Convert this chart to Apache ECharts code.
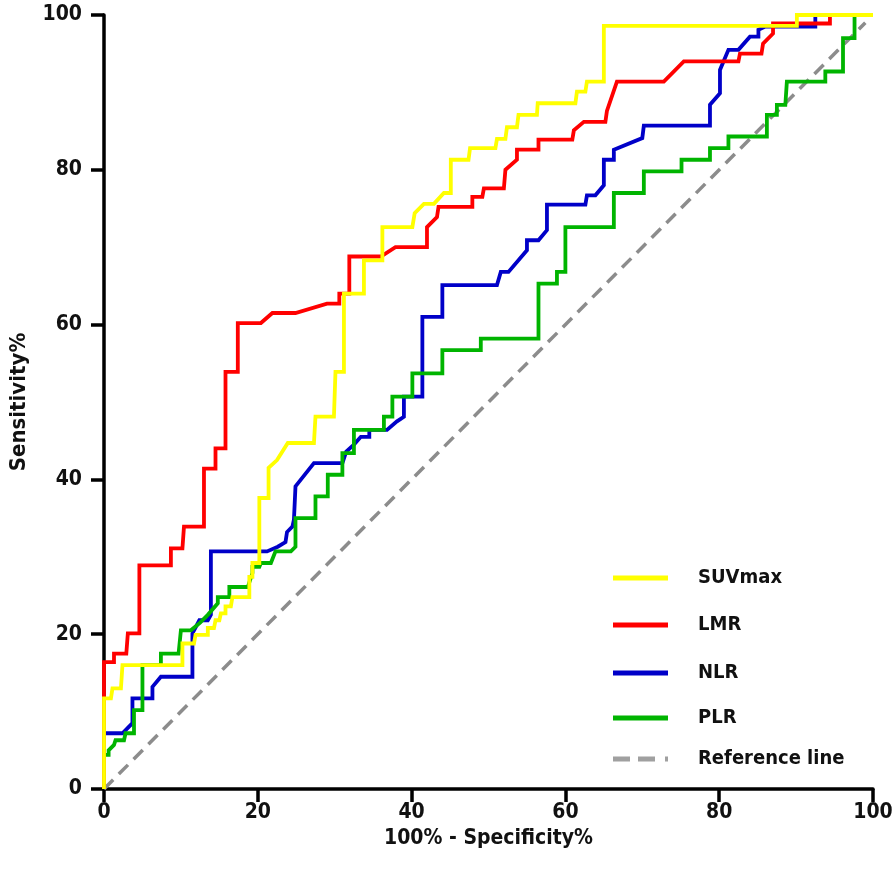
<!DOCTYPE html>
<html>
<head>
<meta charset="utf-8">
<script src="https://cdn.jsdelivr.net/npm/echarts@6/dist/echarts.min.js"></script>
<style>
html,body{margin:0;padding:0;background:#fff;}
#chart{width:896px;height:872px;}
</style>
</head>
<body>
<div id="chart"></div>
<script>
// ---- data ----
const seriesNames = ['SUVmax', 'LMR', 'NLR', 'PLR', 'Reference line'];
const axisTicks = [0, 20, 40, 60, 80, 100];

const suvmax = [[0,0],[0,11.7],[0.9,11.7],[1.1,13],[2.2,13],[2.4,16],[10.2,16],[10.2,18.8],[11.7,18.8],[11.9,19.9],[13.5,19.9],[13.5,20.8],[14.3,20.8],[14.5,21.8],[15,21.8],[15.2,22.7],[15.8,22.7],[15.8,23.6],[16.5,23.6],[16.7,24.8],[18.9,24.8],[18.9,27.4],[19.3,27.4],[19.3,29.2],[20.2,29.2],[20.2,37.6],[21.4,37.6],[21.4,41.5],[22.5,42.5],[23.9,44.7],[27.3,44.7],[27.5,48.1],[29.9,48.1],[30.1,53.9],[31.2,53.9],[31.2,64],[33.8,64],[33.8,68.3],[36.2,68.3],[36.2,72.6],[40.1,72.6],[40.4,74.4],[41.6,75.6],[42.9,75.6],[44.2,77],[45.1,77],[45.1,81.3],[47.4,81.3],[47.6,82.8],[50.9,82.8],[51.1,84],[52.2,84],[52.4,85.5],[53.7,85.5],[53.9,87.1],[56.3,87.1],[56.4,88.6],[61.3,88.6],[61.5,90.1],[62.6,90.1],[62.8,91.4],[65,91.4],[65,98.6],[90.1,98.6],[90.1,100],[100,100]];

const lmr = [[0,0],[0,16.4],[1.3,16.4],[1.3,17.5],[2.9,17.5],[3.1,20.1],[4.6,20.1],[4.6,28.9],[8.7,28.9],[8.7,31.1],[10.2,31.1],[10.4,33.9],[13,33.9],[13,41.4],[14.5,41.4],[14.5,44],[15.8,44],[15.8,53.9],[17.4,53.9],[17.4,60.2],[20.4,60.2],[21.9,61.5],[24.9,61.5],[29,62.7],[30.6,62.7],[30.6,64],[31.9,64],[31.9,68.8],[36,68.8],[37.9,70],[42,70],[42,72.6],[43.3,73.9],[43.5,75.2],[47.9,75.2],[47.9,76.5],[49.2,76.5],[49.4,77.6],[52,77.6],[52.2,80],[53.7,81.3],[53.7,82.6],[56.5,82.6],[56.5,83.9],[60.9,83.9],[61.1,85.1],[62.4,86.2],[65.2,86.2],[65.4,87.6],[66.7,91.4],[72.8,91.4],[75.4,94],[82.5,94],[82.7,95],[85.5,95],[85.7,96.3],[87,97.6],[87,98.9],[94.4,98.9],[94.4,100],[100,100]];

const nlr = [[0,0],[0,7.2],[2.4,7.2],[3.7,8.5],[3.7,11.7],[6.3,11.7],[6.3,13.2],[7.4,14.5],[11.5,14.5],[11.5,20.1],[12.4,21.8],[13.5,21.8],[13.9,22.5],[13.9,30.7],[21.2,30.7],[22.6,31.3],[23.6,31.9],[23.8,33.2],[24.5,33.9],[24.7,34.8],[24.9,39.1],[27.3,42.1],[31,42.1],[31.5,43.6],[32.5,44.5],[33.4,45.5],[34.5,45.5],[34.5,46.4],[36.8,46.4],[38.1,47.5],[39,48.1],[39,50.7],[41.4,50.7],[41.4,61],[44,61],[44,65.1],[51.1,65.1],[51.6,66.8],[52.6,66.8],[55,69.6],[55,70.9],[56.5,70.9],[57.6,72.2],[57.6,75.5],[62.6,75.5],[62.8,76.7],[63.9,76.7],[65,78],[65,81.3],[66.3,81.3],[66.3,82.6],[70,84.1],[70.2,85.7],[78.8,85.7],[78.8,88.4],[80.1,89.9],[80.1,92.9],[81.2,95.5],[82.5,95.5],[84,97.2],[85.1,97.2],[85.1,98.1],[86,98.5],[92.5,98.5],[92.5,100],[100,100]];

const plr = [[0,0],[0,4.4],[0.6,4.4],[0.6,5],[1.3,5.7],[1.5,6.3],[2.6,6.3],[2.8,7.2],[3.9,7.2],[3.9,10.2],[5,10.2],[5,16],[7.4,16],[7.4,17.5],[9.7,17.5],[10,20.5],[11.3,20.5],[12.5,21.5],[13.5,22.5],[14.8,24],[14.8,24.8],[16.3,24.8],[16.3,26.1],[18.7,26.1],[19.3,27.9],[19.3,28.7],[20.2,28.7],[20.4,29.2],[21.7,29.2],[22.3,30.7],[24.3,30.7],[24.9,31.3],[24.9,35],[27.5,35],[27.5,37.8],[29.1,37.8],[29.1,40.6],[31,40.6],[31,43.4],[32.5,43.4],[32.5,46.4],[36.4,46.4],[36.4,48.1],[37.5,48.1],[37.5,50.7],[40.1,50.7],[40.1,53.7],[44,53.7],[44,56.7],[49,56.7],[49,58.2],[56.5,58.2],[56.5,65.3],[58.9,65.3],[58.9,66.8],[60,66.8],[60,72.6],[66.3,72.6],[66.3,77],[70.2,77],[70.2,79.8],[75.1,79.8],[75.1,81.3],[78.8,81.3],[78.8,82.8],[81.2,82.8],[81.2,84.3],[86.2,84.3],[86.2,87.1],[87.5,87.1],[87.5,88.4],[88.6,88.4],[88.8,91.4],[93.8,91.4],[93.8,92.7],[96.1,92.7],[96.1,97],[97.6,97],[97.6,100],[100,100]];

const refLine = [[0,0],[99,99]];

const seriesData = [suvmax, lmr, nlr, plr, refLine];
const colors = ['#FFFF00', '#FF0000', '#0000C8', '#00B400', '#8C8C8C'];
const legendColors = ['#FFFF00', '#FF0000', '#0000C8', '#00B400', '#A0A0A0'];
const zs = [6, 5, 3, 4, 2];
const legendTops = [568, 615, 663, 708, 749];

const FONT = "'Liberation Sans Narrow', 'DejaVu Sans Condensed', 'Liberation Sans', Arial, sans-serif";
const solidIcon = 'path://M0,0H55V5H0Z';
const dashIcon = 'path://M0,0H17V5H0Z M25,0H42V5H25Z M52,0H55V5H52Z';

const chart = echarts.init(document.getElementById('chart'), null, {renderer: 'canvas'});

const legends = seriesNames.map((n, i) => ({
  data: [{name: n, icon: i === 4 ? dashIcon : solidIcon, itemStyle: {color: legendColors[i]}}],
  left: 613,
  top: legendTops[i],
  padding: 0,
  orient: 'vertical',
  itemWidth: 55,
  itemHeight: 5,
  itemGap: 0,
  textStyle: {fontFamily: FONT, fontWeight: 'bold', fontSize: 20, color: '#111', padding: [0, 0, 0, 25]},
  selectedMode: false
}));

const series = seriesNames.map((n, i) => ({
  name: n,
  type: 'line',
  data: seriesData[i],
  showSymbol: false,
  symbol: 'none',
  z: zs[i],
  animation: false,
  clip: false,
  lineStyle: i === 4
    ? {color: colors[i], width: 3.5, type: [13, 8]}
    : {color: colors[i], width: 3.8, join: 'miter'},
  itemStyle: {color: colors[i]}
}));

const axisCommon = {
  type: 'value',
  min: 0,
  max: 100,
  interval: 20,
  splitLine: {show: false},
  axisLine: {show: true, onZero: false, lineStyle: {color: '#000', width: 3.5}},
  axisTick: {show: true, length: 13, lineStyle: {color: '#000', width: 3.5}},
  nameLocation: 'middle',
  nameTextStyle: {fontFamily: FONT, fontWeight: 'bold', fontSize: 21, color: '#111'}
};

chart.setOption({
  backgroundColor: '#fff',
  animation: false,
  grid: {left: 103, right: 23, top: 15, bottom: 83, containLabel: false},
  legend: legends,
  xAxis: Object.assign({}, axisCommon, {
    name: '100% - Specificity%',
    nameGap: 33,
    axisLabel: {fontFamily: FONT, fontWeight: 'bold', fontSize: 21, color: '#111', margin: 13,
      formatter: v => axisTicks.includes(v) ? String(v) : ''}
  }),
  yAxis: Object.assign({}, axisCommon, {
    name: 'Sensitivity%',
    nameGap: 74,
    nameRotate: 90,
    nameTextStyle: {fontFamily: FONT, fontWeight: 'bold', fontSize: 22, color: '#111'},
    axisLabel: {fontFamily: FONT, fontWeight: 'bold', fontSize: 21, color: '#111', margin: 22,
      formatter: v => axisTicks.includes(v) ? String(v) : ''}
  }),
  series: series
});
</script>
</body>
</html>
